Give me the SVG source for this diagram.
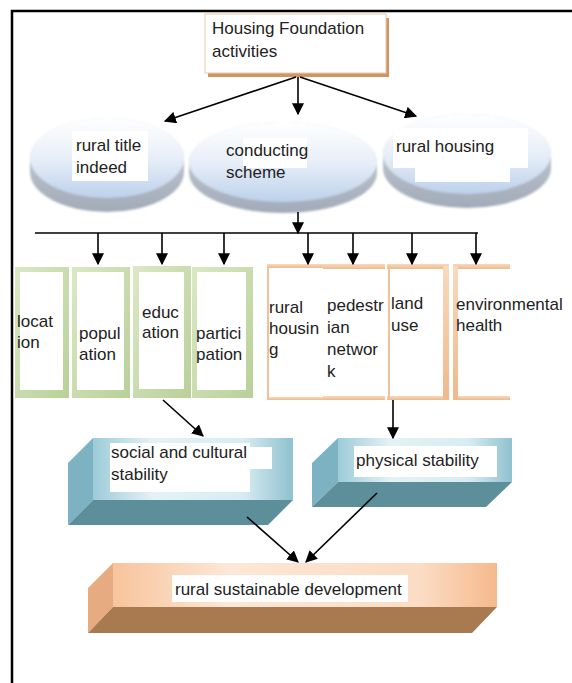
<svg xmlns="http://www.w3.org/2000/svg" width="572" height="683" viewBox="0 0 572 683">
  <defs>
    <linearGradient id="discTop" x1="0" y1="0" x2="0" y2="1">
      <stop offset="0" stop-color="#ffffff"/>
      <stop offset="0.5" stop-color="#e8eff8"/>
      <stop offset="1" stop-color="#bcd1eb"/>
    </linearGradient>
    <linearGradient id="discRim" x1="0" y1="0" x2="0" y2="1">
      <stop offset="0" stop-color="#cdd3dc"/>
      <stop offset="1" stop-color="#a2abb8"/>
    </linearGradient>
    <linearGradient id="greenFrame" x1="0" y1="0" x2="1" y2="1">
      <stop offset="0" stop-color="#dbe8c6"/>
      <stop offset="1" stop-color="#b9d098"/>
    </linearGradient>
    <linearGradient id="orangeBar" x1="0" y1="0" x2="0" y2="1">
      <stop offset="0" stop-color="#f9d9bd"/>
      <stop offset="1" stop-color="#efb98b"/>
    </linearGradient>
    <linearGradient id="tealFace" x1="0" y1="0" x2="1" y2="0">
      <stop offset="0" stop-color="#9ccbd8"/>
      <stop offset="0.3" stop-color="#e4f2f6"/>
      <stop offset="0.75" stop-color="#d7ecf2"/>
      <stop offset="1" stop-color="#8fc1cf"/>
    </linearGradient>
    <linearGradient id="peachFace" x1="0" y1="0" x2="1" y2="0">
      <stop offset="0" stop-color="#f7c49c"/>
      <stop offset="0.3" stop-color="#fde7d6"/>
      <stop offset="0.8" stop-color="#fbdcc4"/>
      <stop offset="1" stop-color="#f5b98c"/>
    </linearGradient>
    <filter id="soft" x="-10%" y="-10%" width="120%" height="120%">
      <feGaussianBlur stdDeviation="1"/>
    </filter>
    <marker id="arrowBig" viewBox="0 0 10 10" refX="9" refY="5" markerWidth="12" markerHeight="12" markerUnits="userSpaceOnUse" orient="auto">
      <path d="M0,0 L10,5 L0,10 z" fill="#000"/>
    </marker>
  </defs>
  <style>
    text { font-family: "Liberation Sans", Arial, sans-serif; font-size: 17px; fill: #222; }
    .conn { stroke: #000; stroke-width: 1.6; fill: none; }
    .frame { stroke: #000; stroke-width: 2.5; fill: none; }
    .pad { fill: #ffffff; }
    .greenOuter { fill: url(#greenFrame); }
    .orangeLine { stroke: #efc29c; stroke-width: 2; fill: none; }
    .orangeBar { fill: url(#orangeBar); }
  </style>

  <rect width="572" height="683" fill="#ffffff"/>
  <!-- page frame: top and left rules only -->
  <path class="frame" d="M12,683 V11 H572"/>

  <!-- top box -->
  <g id="node-housing-foundation">
    <rect x="208" y="18" width="181" height="59" fill="#c9824a" opacity="0.85"/>
    <rect x="205" y="14" width="181" height="59" fill="#ffffff" stroke="#e9c9ad" stroke-width="1"/>
    <text x="212" y="34">Housing Foundation</text>
    <text x="212" y="57">activities</text>
  </g>

  <!-- discs -->
  <g id="node-rural-title">
    <g filter="url(#soft)">
      <path d="M30,158 A77,40 0 0 1 184,158 V172 A77,40 0 0 1 30,172 Z" fill="url(#discRim)"/>
      <ellipse cx="107" cy="158" rx="77" ry="40" fill="url(#discTop)"/>
    </g>
    <rect class="pad" x="72" y="131" width="76" height="50"/>
    <text x="76" y="151">rural title</text>
    <text x="76" y="173">indeed</text>
  </g>
  <g id="node-conducting-scheme">
    <g filter="url(#soft)">
      <path d="M189,162 A94,40 0 0 1 377,162 V173 A94,40 0 0 1 189,173 Z" fill="url(#discRim)"/>
      <ellipse cx="283" cy="162" rx="94" ry="40" fill="url(#discTop)"/>
    </g>
    <rect class="pad" x="243" y="138" width="64" height="30"/>
    <text x="226" y="156">conducting</text>
    <text x="226" y="178">scheme</text>
  </g>
  <g id="node-rural-housing-disc">
    <g filter="url(#soft)">
      <path d="M383,154 A84,40 0 0 1 551,154 V168 A84,40 0 0 1 383,168 Z" fill="url(#discRim)"/>
      <ellipse cx="467" cy="154" rx="84" ry="40" fill="url(#discTop)"/>
    </g>
    <rect class="pad" x="393" y="128" width="135" height="40"/>
    <rect class="pad" x="415" y="166" width="95" height="16"/>
    <text x="396" y="152">rural housing</text>
  </g>

  <!-- green criteria boxes -->
  <g id="node-location">
    <rect class="greenOuter" x="15" y="267" width="54" height="131"/>
    <rect class="pad" x="20" y="272" width="43" height="118"/>
    <text x="17" y="327">locat</text>
    <text x="17" y="348">ion</text>
  </g>
  <g id="node-population">
    <rect class="greenOuter" x="72" y="267" width="58" height="131"/>
    <rect class="pad" x="77" y="272" width="47" height="118"/>
    <text x="79" y="339">popul</text>
    <text x="79" y="360">ation</text>
  </g>
  <g id="node-education">
    <rect class="greenOuter" x="133" y="266" width="58" height="132"/>
    <rect class="pad" x="139" y="272" width="45" height="117"/>
    <text x="142" y="318">educ</text>
    <text x="142" y="338">ation</text>
  </g>
  <g id="node-participation">
    <rect class="greenOuter" x="192" y="267" width="61" height="131"/>
    <rect class="pad" x="197" y="272" width="49" height="118"/>
    <text x="196" y="339">partici</text>
    <text x="196" y="360">pation</text>
  </g>

  <!-- orange criteria boxes -->
  <g id="node-rural-housing">
    <rect class="orangeBar" x="267" y="264" width="56" height="4"/>
    <rect class="orangeBar" x="267" y="397" width="56" height="3"/>
    <path class="orangeLine" d="M268,266 V399"/>
    <text x="269" y="313">rural</text>
    <text x="269" y="334">housin</text>
    <text x="269" y="355">g</text>
  </g>
  <g id="node-pedestrian-network">
    <rect class="orangeBar" x="323" y="264" width="62" height="5"/>
    <rect class="orangeBar" x="323" y="396" width="62" height="4"/>
    <text x="327" y="311">pedestr</text>
    <text x="327" y="333">ian</text>
    <text x="327" y="355">networ</text>
    <text x="327" y="377">k</text>
  </g>
  <g id="node-land-use">
    <rect class="orangeBar" x="387" y="264" width="62" height="5"/>
    <rect class="orangeBar" x="387" y="396" width="62" height="4"/>
    <path class="orangeLine" d="M389,266 V399"/>
    <rect class="orangeBar" x="443" y="266" width="6" height="133"/>
    <text x="391" y="309">land</text>
    <text x="391" y="331">use</text>
  </g>
  <g id="node-environmental-health">
    <rect class="orangeBar" x="453" y="264" width="57" height="5"/>
    <rect class="orangeBar" x="453" y="396" width="57" height="4"/>
    <rect class="orangeBar" x="453" y="266" width="5" height="133"/>
    <text x="456" y="310">environmental</text>
    <text x="456" y="331">health</text>
  </g>

  <!-- stability blocks -->
  <g id="node-social-cultural">
    <polygon points="93,438 68,463 68,525 93,500" fill="#7db2c2"/>
    <polygon points="93,500 293,500 268,525 68,525" fill="#5d8f9a"/>
    <rect x="93" y="438" width="200" height="62" fill="url(#tealFace)"/>
    <rect class="pad" x="110" y="443" width="140" height="49"/>
    <rect class="pad" x="250" y="447" width="22" height="22"/>
    <text x="111" y="458">social and cultural</text>
    <text x="111" y="480">stability</text>
  </g>
  <g id="node-physical">
    <polygon points="338,438 312,463 312,507 338,482" fill="#7db2c2"/>
    <polygon points="338,482 512,482 486,507 312,507" fill="#5d8f9a"/>
    <rect x="338" y="438" width="174" height="44" fill="url(#tealFace)"/>
    <rect class="pad" x="354" y="446" width="143" height="31"/>
    <text x="356" y="466">physical stability</text>
  </g>

  <!-- outcome block -->
  <g id="node-sustainable-development">
    <polygon points="113,563 88,588 88,633 113,607" fill="#e6ab80"/>
    <polygon points="113,607 497,607 472,633 88,633" fill="#a9794f"/>
    <rect x="113" y="563" width="384" height="44" fill="url(#peachFace)"/>
    <rect class="pad" x="172" y="575" width="236" height="27"/>
    <text x="175" y="595">rural sustainable development</text>
  </g>

  <!-- connectors -->
  <g id="connectors">
    <line class="conn" x1="296" y1="77" x2="165" y2="121" marker-end="url(#arrowBig)"/>
    <line class="conn" x1="298" y1="77" x2="298" y2="114" marker-end="url(#arrowBig)"/>
    <line class="conn" x1="300" y1="77" x2="416" y2="116" marker-end="url(#arrowBig)"/>
    <line class="conn" x1="298" y1="212" x2="298" y2="233" marker-end="url(#arrowBig)"/>
    <line class="conn" x1="35" y1="233" x2="478" y2="233"/>
    <line class="conn" x1="98" y1="233" x2="98" y2="264" marker-end="url(#arrowBig)"/>
    <line class="conn" x1="162" y1="233" x2="162" y2="264" marker-end="url(#arrowBig)"/>
    <line class="conn" x1="224" y1="233" x2="224" y2="264" marker-end="url(#arrowBig)"/>
    <line class="conn" x1="308" y1="233" x2="308" y2="264" marker-end="url(#arrowBig)"/>
    <line class="conn" x1="353" y1="233" x2="353" y2="264" marker-end="url(#arrowBig)"/>
    <line class="conn" x1="412" y1="233" x2="412" y2="264" marker-end="url(#arrowBig)"/>
    <line class="conn" x1="476" y1="233" x2="476" y2="264" marker-end="url(#arrowBig)"/>
    <line class="conn" x1="163" y1="400" x2="203" y2="436" marker-end="url(#arrowBig)"/>
    <line class="conn" x1="393" y1="400" x2="393" y2="438" marker-end="url(#arrowBig)"/>
    <line class="conn" x1="247" y1="517" x2="298" y2="562" marker-end="url(#arrowBig)"/>
    <line class="conn" x1="377" y1="493" x2="306" y2="562" marker-end="url(#arrowBig)"/>
  </g>
</svg>
